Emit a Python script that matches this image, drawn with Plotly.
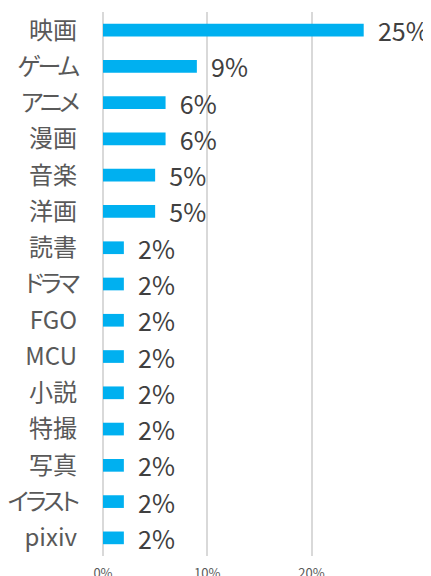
import plotly.graph_objects as go

categories = ["映画", "ゲーム", "アニメ", "漫画", "音楽", "洋画", "読書", "ドラマ",
              "FGO", "MCU", "小説", "特撮", "写真", "イラスト", "pixiv"]
values = [25, 9, 6, 6, 5, 5, 2, 2, 2, 2, 2, 2, 2, 2, 2]
tick_vals = [0, 10, 20]
tick_text = ["0%", "10%", "20%"]

FONT = "Noto Sans CJK JP, Noto Sans, sans-serif"

# proportional kana (like the original's font) via 'palt'; katakana labels
# are tightened a little more to match the original widths
kana = {"ゲーム", "アニメ", "ドラマ", "イラスト"}


def styled(c):
    style = "font-feature-settings:'palt'"
    if c in kana:
        style += ";letter-spacing:-3px"
    return f'<span style="{style}">{c}</span>'


cat_ticktext = [styled(c) for c in categories]

fig = go.Figure(go.Bar(
    y=categories,
    x=values,
    orientation="h",
    marker=dict(color="#00B0F0", line=dict(width=0)),
    text=["  " + f"{v}%" for v in values],
    textposition="outside",
    constraintext="none",
    textfont=dict(family=FONT, size=25, color="#404040"),
    cliponaxis=False,
    width=0.35,
))

# page body adds an 8px offset; margins compensate for it
fig.update_layout(
    width=431, height=576,
    margin=dict(l=95, r=44, t=4, b=28),
    paper_bgcolor="white", plot_bgcolor="white",
    showlegend=False,
    font=dict(family=FONT),
)
fig.update_yaxes(
    categoryorder="array", categoryarray=categories, autorange="reversed",
    tickvals=categories, ticktext=cat_ticktext,
    tickfont=dict(family=FONT, size=24, color="#595959"),
    ticklabelstandoff=25, showgrid=False, showline=False, zeroline=False,
    automargin=False,
)
fig.update_xaxes(
    range=[0, 28], tickvals=tick_vals, ticktext=tick_text,
    tickfont=dict(family=FONT, size=13, color="#595959"),
    showgrid=True, gridcolor="#D9D9D9", gridwidth=1.5,
    zeroline=True, zerolinecolor="#D9D9D9", zerolinewidth=1.5,
    ticklabelstandoff=8, automargin=False,
)

fig.write_html("out.html")
